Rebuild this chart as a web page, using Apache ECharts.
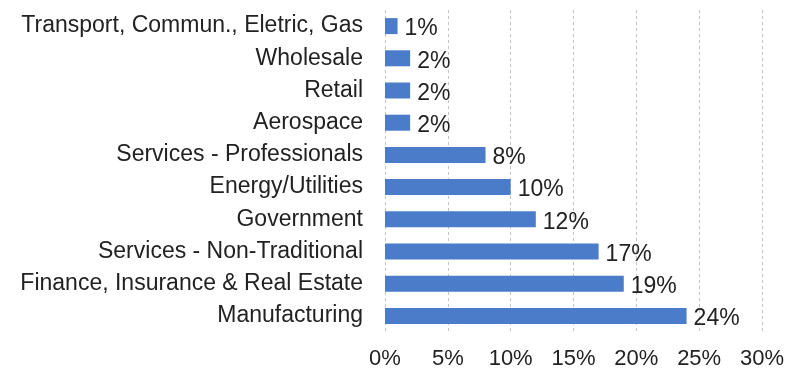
<!DOCTYPE html>
<html>
<head>
<meta charset="utf-8">
<script src="https://cdn.jsdelivr.net/npm/echarts@6/dist/echarts.min.js"></script>
<style>
  html, body { margin: 0; padding: 0; background: #fff; }
  #chart { width: 787px; height: 374px; }
</style>
</head>
<body>
<div id="chart"></div>
<script>
// Industry sectors, listed bottom-to-top as the category axis draws them
const categories = [
  'Manufacturing',
  'Finance, Insurance & Real Estate',
  'Services - Non-Traditional',
  'Government',
  'Energy/Utilities',
  'Services - Professionals',
  'Aerospace',
  'Retail',
  'Wholesale',
  'Transport, Commun., Eletric, Gas'
];
// Share of each sector, in percent
const shares = [24, 19, 17, 12, 10, 8, 2, 2, 2, 1];
// Value axis range and step
const axisMin = 0;
const axisMax = 30;
const axisStep = 5;

const chart = echarts.init(document.getElementById('chart'));
const font = '"Liberation Sans", Arial, sans-serif';

chart.setOption({
  animation: false,
  grid: { left: 385, right: 22, top: 10, bottom: 42, containLabel: false },
  xAxis: {
    type: 'value',
    min: axisMin,
    max: axisMax,
    interval: axisStep,
    axisLine: { show: false },
    axisTick: { show: false },
    axisLabel: {
      formatter: '{value}%',
      color: '#222',
      fontSize: 22,
      fontFamily: font,
      margin: 16
    },
    splitLine: { show: true, lineStyle: { color: '#c4c4c4', type: [3, 3], width: 1 } }
  },
  yAxis: {
    type: 'category',
    data: categories,
    axisLine: { show: false },
    axisTick: { show: false },
    axisLabel: {
      color: '#222',
      fontSize: 23,
      fontFamily: font,
      margin: 22
    }
  },
  series: [{
    type: 'bar',
    data: shares,
    barWidth: 16,
    itemStyle: { color: '#4a7cc9' },
    label: {
      show: true,
      position: 'right',
      distance: 7,
      formatter: '{c}%',
      color: '#222',
      fontSize: 23,
      fontFamily: font,
      offset: [0, 3]
    }
  }]
});
</script>
</body>
</html>
